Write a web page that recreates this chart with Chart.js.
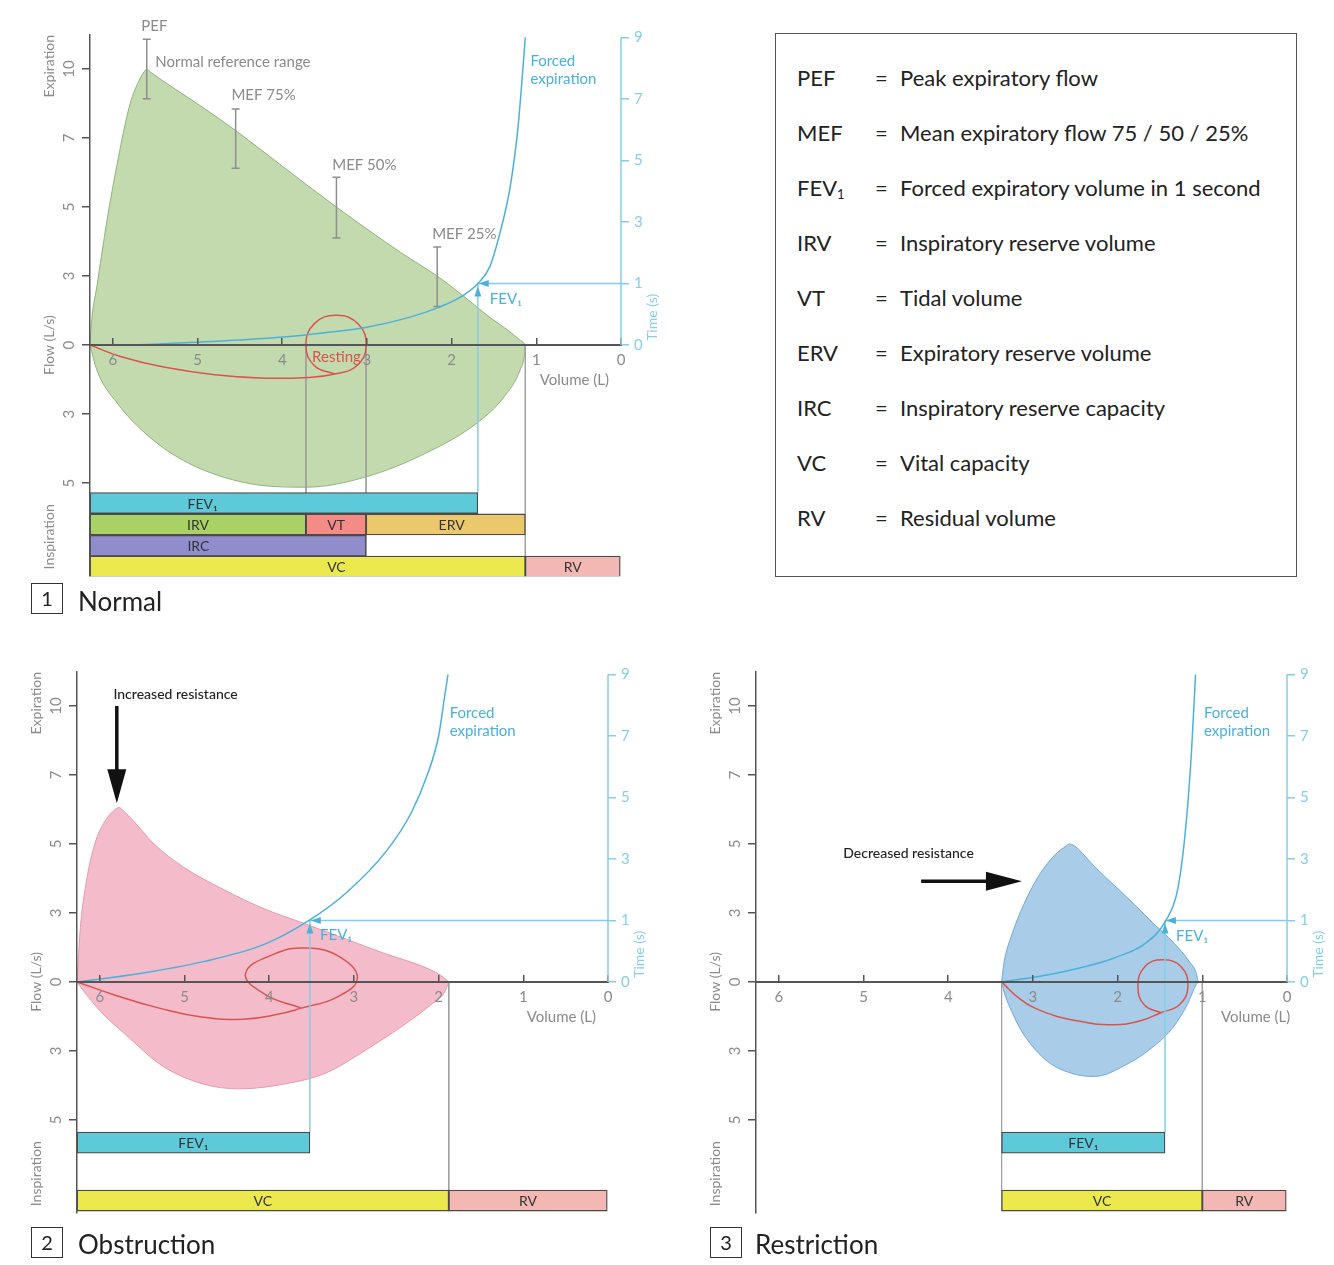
<!DOCTYPE html>
<html>
<head>
<meta charset="utf-8">
<script src="https://cdn.jsdelivr.net/npm/chart.js@4.4.1/dist/chart.umd.min.js"></script>
<style>
  body { margin: 0; background: #fff; font-family: Lato, "Open Sans", sans-serif; }
  #page { position: relative; width: 1334px; height: 1265px; overflow: hidden; }
  canvas { position: absolute; }
  .legend { position: absolute; left: 775px; top: 33px; width: 520px; height: 542px; border: 1.5px solid #555; }
  .legend .cell { position: absolute; font-size: 22px; line-height: 26px; color: #222; white-space: nowrap; }
  .legend sub { font-size: 13px; vertical-align: -3px; }
  .num { position: absolute; width: 30px; height: 29px; border: 1.5px solid #333; font-size: 20px; line-height: 29px; text-align: center; color: #222; z-index: 2; }
  .cap { position: absolute; font-size: 26px; line-height: 32px; color: #222; z-index: 2; }
</style>
</head>
<body>
<div id="page">
  <canvas id="normal" width="700" height="615" style="left:0;top:0"></canvas>
  <canvas id="obstruction" width="680" height="600" style="left:0;top:640px"></canvas>
  <canvas id="restriction" width="654" height="600" style="left:680px;top:640px"></canvas>
  <div class="legend" id="legend"></div>
  <div class="num" style="left:31px;top:583px">1</div><div class="cap" style="left:78px;top:585px">Normal</div>
  <div class="num" style="left:31px;top:1227px">2</div><div class="cap" style="left:78px;top:1228px">Obstruction</div>
  <div class="num" style="left:710px;top:1227px">3</div><div class="cap" style="left:755px;top:1228px">Restriction</div>
</div>
<script>
// ---- axes ----
// flow and time axes are drawn with evenly spaced ticks but uneven labels,
// so values below are in tick steps (one step = one tick)
const volumeTicks = [6, 5, 4, 3, 2, 1, 0];
const flowTickPos = [4, 3, 2, 1, 0, -1, -2];
const flowTickLabels = ['10', '7', '5', '3', '0', '3', '5'];
const timeTickPos = [0, 1, 2, 3, 4, 5];
const timeTickLabels = ['0', '1', '3', '5', '7', '9'];

// ---- 1 Normal ----
const normalExpVol  = [6.27, 6.25, 6.19, 6.07, 5.95, 5.80, 5.68, 5.63, 5.60, 5.56, 4.97, 4.53, 4.03, 3.35, 2.60, 2.16, 1.83, 1.57, 1.32, 1.20, 1.14, 1.13];
const normalExpFlow = [0, 0.36, 0.84, 1.80, 2.62, 3.48, 3.86, 3.96, 4.00, 3.96, 3.47, 3.09, 2.62, 1.99, 1.34, 0.99, 0.68, 0.42, 0.20, 0.08, 0.02, 0];
const normalInspVol  = [6.27, 6.19, 5.95, 5.57, 5.11, 4.42, 3.71, 3.01, 2.31, 1.70, 1.38, 1.19, 1.14, 1.13];
const normalInspFlow = [0, -0.36, -0.84, -1.33, -1.71, -2.00, -2.06, -1.91, -1.57, -1.13, -0.75, -0.36, -0.14, 0];
const normalTidalVol  = [6.27, 5.90, 5.40, 4.80, 4.20, 3.70, 3.38, 3.12, 3.01, 3.10, 3.36, 3.62, 3.72, 3.62, 3.38];
const normalTidalFlow = [0, -0.17, -0.32, -0.43, -0.48, -0.47, -0.42, -0.30, -0.02, 0.30, 0.43, 0.31, 0, -0.30, -0.42];
const normalForcedVol  = [6.27, 5.60, 4.97, 4.40, 3.99, 3.50, 3.00, 2.50, 2.14, 1.87, 1.69, 1.55, 1.43, 1.31, 1.22, 1.16, 1.13];
const normalForcedTime = [0, 0.01, 0.05, 0.09, 0.13, 0.20, 0.29, 0.45, 0.62, 0.80, 1.00, 1.27, 1.82, 2.56, 3.49, 4.46, 5.00];
const normalRefNames = ['PEF', 'MEF 75%', 'MEF 50%', 'MEF 25%'];
const normalRefVol  = [5.60, 4.55, 3.36, 2.17];
const normalRefLow  = [3.57, 2.56, 1.55, 0.56];
const normalRefHigh = [4.43, 3.42, 2.43, 1.42];
const normalBarNames = ['FEV₁', 'IRV', 'VT', 'ERV', 'IRC', 'VC', 'RV'];
const normalBarStart = [6.27, 6.27, 3.72, 3.01, 6.27, 6.27, 1.13];
const normalBarEnd   = [1.69, 3.72, 3.01, 1.13, 3.01, 1.13, 0];
const normalBarRow   = [0, 1, 1, 1, 2, 3, 3];
const normalFev1Vol = 1.69;

// ---- 2 Obstruction ----
const obstExpVol  = [6.27, 6.23, 6.16, 6.06, 5.94, 5.82, 5.77, 5.73, 5.60, 5.36, 5.02, 4.54, 4.06, 3.57, 3.09, 2.61, 2.22, 1.98, 1.88];
const obstExpFlow = [0, 0.79, 1.45, 2.00, 2.33, 2.50, 2.53, 2.49, 2.33, 2.00, 1.67, 1.34, 1.06, 0.84, 0.62, 0.40, 0.24, 0.10, 0];
const obstInspVol  = [6.27, 6.18, 5.99, 5.70, 5.27, 4.78, 4.35, 3.82, 3.33, 2.85, 2.37, 2.08, 1.93, 1.88];
const obstInspFlow = [0, -0.15, -0.43, -0.76, -1.21, -1.48, -1.55, -1.48, -1.32, -0.98, -0.59, -0.32, -0.15, 0];
const obstTidalVol  = [6.27, 5.80, 5.30, 4.80, 4.30, 3.90, 3.62, 3.20, 2.96, 3.15, 3.55, 3.95, 4.28, 4.05, 3.62];
const obstTidalFlow = [0, -0.20, -0.38, -0.51, -0.54, -0.47, -0.38, -0.22, 0.05, 0.35, 0.49, 0.40, 0.12, -0.18, -0.38];
const obstForcedVol  = [6.27, 5.51, 4.78, 4.06, 3.53, 3.09, 2.61, 2.32, 2.13, 2.00, 1.93, 1.89];
const obstForcedTime = [0, 0.14, 0.33, 0.61, 1.00, 1.45, 2.14, 2.76, 3.38, 4.00, 4.63, 5.00];
const obstBarNames = ['FEV₁', 'VC', 'RV'];
const obstBarStart = [6.27, 6.27, 1.88];
const obstBarEnd   = [3.52, 1.88, 0];
const obstBarRow   = [0, 1, 1];
const obstFev1Vol = 3.52;

// ---- 3 Restriction ----
const restrExpVol  = [3.37, 3.34, 3.25, 3.11, 2.92, 2.74, 2.61, 2.57, 2.52, 2.46, 2.27, 2.04, 1.80, 1.57, 1.34, 1.15, 1.07, 1.05];
const restrExpFlow = [0, 0.29, 0.68, 1.12, 1.56, 1.84, 1.97, 2.00, 1.98, 1.92, 1.67, 1.40, 1.12, 0.84, 0.57, 0.29, 0.12, 0];
const restrInspVol  = [3.37, 3.34, 3.25, 3.11, 2.83, 2.50, 2.27, 1.90, 1.57, 1.34, 1.17, 1.09, 1.05];
const restrInspFlow = [0, -0.15, -0.43, -0.76, -1.15, -1.34, -1.37, -1.20, -0.93, -0.65, -0.31, -0.08, 0];
const restrTidalVol  = [3.37, 3.15, 2.90, 2.50, 2.05, 1.72, 1.50, 1.27, 1.17, 1.25, 1.47, 1.68, 1.76, 1.68, 1.48];
const restrTidalFlow = [0, -0.25, -0.42, -0.56, -0.62, -0.56, -0.45, -0.33, -0.07, 0.22, 0.32, 0.22, -0.07, -0.34, -0.45];
const restrForcedVol  = [3.37, 2.97, 2.50, 2.04, 1.66, 1.43, 1.29, 1.20, 1.13, 1.08];
const restrForcedTime = [0, 0.08, 0.21, 0.39, 0.64, 1.00, 1.51, 2.45, 3.69, 5.00];
const restrBarNames = ['FEV₁', 'VC', 'RV'];
const restrBarStart = [3.37, 3.37, 1.00];
const restrBarEnd   = [1.44, 1.00, 0];
const restrBarRow   = [0, 1, 1];
const restrFev1Vol = 1.44;

// ---- legend ----
const legendAbbr = ['PEF', 'MEF', 'FEV<sub>1</sub>', 'IRV', 'VT', 'ERV', 'IRC', 'VC', 'RV'];
const legendText = ['Peak expiratory flow', 'Mean expiratory flow 75 / 50 / 25%', 'Forced expiratory volume in 1 second',
  'Inspiratory reserve volume', 'Tidal volume', 'Expiratory reserve volume', 'Inspiratory reserve capacity',
  'Vital capacity', 'Residual volume'];

// ---- styling ----
const VOL_MAX = 6.27;
const FLOW_MIN = -3.35, FLOW_MAX = 4.5;
const TIME_PER_FLOW = 69 / 61.5;   // time ticks sit a little closer than flow ticks
const BAR_HALF = 0.152;            // half a bar row, in flow steps
const GRAY_TEXT = '#8a8a8a';
const AXIS = '#555';
const BLUE = '#4ab1dc';
const BLUE_LIGHT = '#86cde9';
const RED = '#d9544e';
const GUIDE = '#a0a0a0';
const BAR_COLORS = { 'FEV₁': '#5ec9d8', IRV: '#a9d166', VT: '#f48b86', ERV: '#eac86b', IRC: '#918dcc', VC: '#ece94f', RV: '#f3b8b3' };

Chart.defaults.font.family = 'Lato, "Open Sans", sans-serif';
Chart.defaults.font.size = 15;
Chart.defaults.color = GRAY_TEXT;

const decor = {};

function pts(xs, ys) {
  return xs.map((v, i) => ({ x: v, y: ys[i] }));
}

function drawText(ctx, s, x, y, n) {
  ctx.save();
  ctx.font = `${n.weight || 400} ${n.size || 15}px Lato, "Open Sans", sans-serif`;
  ctx.fillStyle = n.color || GRAY_TEXT;
  ctx.textAlign = n.align || 'left';
  ctx.textBaseline = 'middle';
  ctx.translate(x, y);
  if (n.rot) ctx.rotate(n.rot * Math.PI / 180);
  ctx.fillText(s, 0, 0);
  ctx.restore();
}

const decorPlugin = {
  id: 'spiroDecor',
  afterDraw(chart) {
    const d = decor[chart.canvas.id];
    const { ctx, chartArea: area } = chart;
    const sx = chart.scales.x, sy = chart.scales.y, st = chart.scales.y2;
    const py = (val, axis) => (axis === 'y2' ? st : sy).getPixelForValue(val);
    ctx.save();

    // time axis line only covers 0..9 s
    ctx.strokeStyle = BLUE_LIGHT;
    ctx.lineWidth = 1.5;
    ctx.beginPath();
    ctx.moveTo(area.right, st.getPixelForValue(timeTickPos[0]));
    ctx.lineTo(area.right, st.getPixelForValue(timeTickPos[timeTickPos.length - 1]));
    ctx.stroke();

    // labels inside the volume bars
    chart.getDatasetMeta(d.barIndex).data.forEach((bar, i) => {
      const at = d.labelAt && d.labelAt[i] != null ? sx.getPixelForValue(d.labelAt[i]) : (bar.x + bar.base) / 2;
      drawText(ctx, d.barNames[i], at, bar.y + 1, { align: 'center', size: 14, color: '#333' });
    });

    // arrows
    d.arrows.forEach(a => {
      const x0 = sx.getPixelForValue(a.from[0]), y0 = py(a.from[1], a.axis);
      const x1 = sx.getPixelForValue(a.to[0]), y1 = py(a.to[1], a.axis);
      const len = Math.hypot(x1 - x0, y1 - y0);
      const ux = (x1 - x0) / len, uy = (y1 - y0) / len;
      const bx = x1 - ux * a.head, by = y1 - uy * a.head;
      ctx.strokeStyle = a.color;
      ctx.fillStyle = a.color;
      if (a.shaft) {
        ctx.lineWidth = a.width;
        ctx.beginPath();
        ctx.moveTo(x0, y0);
        ctx.lineTo(bx + ux, by + uy);
        ctx.stroke();
      }
      ctx.beginPath();
      ctx.moveTo(x1, y1);
      ctx.lineTo(bx - uy * a.headW / 2, by + ux * a.headW / 2);
      ctx.lineTo(bx + uy * a.headW / 2, by - ux * a.headW / 2);
      ctx.closePath();
      ctx.fill();
    });

    // text notes
    d.notes.forEach(n => {
      let x;
      if (n.left != null) x = area.left + n.left;
      else if (n.right != null) x = area.right + n.right;
      else x = sx.getPixelForValue(n.v);
      drawText(ctx, n.t, x, py(n.f, n.axis), n);
    });
    ctx.restore();
  }
};

function spiroChart(id, o) {
  const datasets = [];
  const loopStyle = { type: 'line', borderColor: o.edge, borderWidth: 1, backgroundColor: o.fill, fill: 'origin',
    pointRadius: 0, cubicInterpolationMode: 'monotone', order: 10 };
  datasets.push(Object.assign({ data: pts(o.expVol, o.expFlow) }, loopStyle));
  datasets.push(Object.assign({ data: pts(o.inspVol, o.inspFlow) }, loopStyle));

  // grey drop lines from the volume axis down to the bars
  o.guides.forEach(g => {
    datasets.push({ type: 'line', data: pts([g[0], g[0]], [0, o.rows[g[1]] - BAR_HALF]), borderColor: GUIDE,
      borderWidth: 1, pointRadius: 0, order: 6 });
  });

  // reference ranges
  (o.refVol || []).forEach((v, i) => {
    datasets.push({ type: 'line', data: pts([v, v], [o.refLow[i], o.refHigh[i]]), borderColor: '#8f8f8f',
      borderWidth: 1.5, pointStyle: 'line', pointRadius: 4, pointBorderColor: '#8f8f8f', pointBorderWidth: 1.5, order: 5 });
  });

  // resting tidal loop
  datasets.push({ type: 'line', data: pts(o.tidalVol, o.tidalFlow), borderColor: RED, borderWidth: 1.5,
    tension: 0.45, pointRadius: 0, fill: false, order: 4 });

  // forced expiration (time axis)
  datasets.push({ type: 'line', yAxisID: 'y2', data: pts(o.forcedVol, o.forcedTime), borderColor: BLUE,
    borderWidth: 1.5, cubicInterpolationMode: 'monotone', pointRadius: 0, fill: false, order: 3 });

  // FEV1 read-off lines
  datasets.push({ type: 'line', yAxisID: 'y2', data: pts([0, o.fev1], [1, 1]), borderColor: BLUE_LIGHT,
    borderWidth: 1.5, pointRadius: 0, order: 3 });
  datasets.push({ type: 'line', yAxisID: 'y2', data: pts([o.fev1, o.fev1], [1, (o.rows[0] + BAR_HALF) * TIME_PER_FLOW]),
    borderColor: BLUE_LIGHT, borderWidth: 1.5, pointRadius: 0, order: 3 });

  // volume bars
  const barIndex = datasets.length;
  datasets.push({
    type: 'bar', indexAxis: 'y',
    data: o.barNames.map((n, i) => ({ y: o.rows[o.barRow[i]], x: [o.barStart[i], o.barEnd[i]] })),
    backgroundColor: o.barNames.map(n => BAR_COLORS[n]),
    borderColor: '#4a4a4a', borderWidth: 1.3, borderSkipped: false, barThickness: 21, order: 0
  });

  const notes = [
    { t: 'Expiration', left: -41, f: 4.04, rot: -90, size: 14, align: 'center' },
    { t: 'Flow (L/s)', left: -41, f: 0, rot: -90, size: 14, align: 'center' },
    { t: 'Inspiration', left: -41, f: -2.78, rot: -90, size: 14, align: 'center' },
    { t: 'Time (s)', right: 31, axis: 'y2', f: 0.45, rot: -90, size: 14, align: 'center', color: BLUE_LIGHT }
  ].concat(o.notes);

  const arrows = [
    { from: [o.fev1 - 0.14, 1], to: [o.fev1 - 0.01, 1], axis: 'y2', head: 10, headW: 7, color: BLUE, shaft: false },
    { from: [o.fev1, 0.7], to: [o.fev1, 0.95], axis: 'y2', head: 10, headW: 7, color: BLUE, shaft: false }
  ].concat(o.arrows || []);

  decor[id] = { barIndex, barNames: o.barNames, labelAt: o.labelAt, notes, arrows };

  new Chart(document.getElementById(id), {
    type: 'line',
    data: { datasets },
    plugins: [decorPlugin],
    options: {
      responsive: false,
      animation: false,
      events: [],
      layout: { padding: { left: 0, right: 0, top: o.padTop, bottom: o.padBottom } },
      plugins: { legend: { display: false }, tooltip: { enabled: false }, title: { display: false } },
      scales: {
        x: {
          type: 'linear', reverse: true, min: 0, max: VOL_MAX, position: { y: 0 }, offset: false,
          afterBuildTicks: s => { s.ticks = volumeTicks.map(v => ({ value: v })); },
          ticks: { z: 1, autoSkip: false, maxRotation: 0, padding: 14, color: GRAY_TEXT, font: { size: 15 },
            callback: v => String(v) },
          grid: { z: 1, offset: false, drawOnChartArea: false, tickLength: -8, color: AXIS, lineWidth: 1.5 },
          border: { z: 1, color: AXIS, width: 2 }
        },
        y: {
          // the bar dataset would otherwise switch on category-style offset for this axis
          type: 'linear', position: 'left', min: FLOW_MIN, max: FLOW_MAX, offset: false,
          afterBuildTicks: s => { s.ticks = flowTickPos.map(v => ({ value: v })); },
          afterFit: s => { s.width = o.yWidth; },
          ticks: { z: 1, autoSkip: false, minRotation: 90, maxRotation: 90, crossAlign: 'center', padding: 4,
            color: GRAY_TEXT, font: { size: 15 }, callback: v => flowTickLabels[flowTickPos.indexOf(v)] },
          grid: { z: 1, offset: false, drawOnChartArea: false, tickLength: 8, color: AXIS, lineWidth: 1.5 },
          border: { z: 1, color: AXIS, width: 1.5 }
        },
        y2: {
          type: 'linear', position: 'right', min: FLOW_MIN * TIME_PER_FLOW, max: FLOW_MAX * TIME_PER_FLOW, offset: false,
          afterBuildTicks: s => { s.ticks = timeTickPos.map(v => ({ value: v })); },
          afterFit: s => { s.width = o.y2Width; },
          ticks: { autoSkip: false, padding: 5, color: BLUE_LIGHT, font: { size: 15 },
            callback: v => timeTickLabels[timeTickPos.indexOf(v)] },
          grid: { drawOnChartArea: false, tickLength: 8, color: BLUE_LIGHT, lineWidth: 1.5 },
          border: { display: false }
        }
      }
    }
  });
}

// ---- 1 Normal ----
spiroChart('normal', {
  padTop: 34.5, padBottom: 38.8, yWidth: 90, y2Width: 79,
  rows: [-2.29, -2.60, -2.91, -3.21],
  expVol: normalExpVol, expFlow: normalExpFlow, inspVol: normalInspVol, inspFlow: normalInspFlow,
  fill: '#c3daae', edge: '#8eb47b',
  tidalVol: normalTidalVol, tidalFlow: normalTidalFlow,
  forcedVol: normalForcedVol, forcedTime: normalForcedTime, fev1: normalFev1Vol,
  refVol: normalRefVol, refLow: normalRefLow, refHigh: normalRefHigh,
  barNames: normalBarNames, barStart: normalBarStart, barEnd: normalBarEnd, barRow: normalBarRow,
  labelAt: [4.94, null, null, 2.0, 4.99, 3.36, null],
  guides: [[3.72, 1], [3.01, 2], [1.13, 3]],
  notes: [
    { t: normalRefNames[0], v: 5.51, f: 4.62, align: 'center' },
    { t: 'Normal reference range', v: 5.50, f: 4.10 },
    { t: normalRefNames[1], v: 4.60, f: 3.62 },
    { t: normalRefNames[2], v: 3.41, f: 2.61 },
    { t: normalRefNames[3], v: 2.23, f: 1.61 },
    { t: 'Resting', v: 3.36, f: -0.17, align: 'center', color: RED },
    { t: 'Forced', v: 1.07, f: 4.12, color: BLUE },
    { t: 'expiration', v: 1.07, f: 3.86, color: BLUE },
    { t: 'FEV₁', v: 1.55, f: 0.67, color: BLUE },
    { t: 'Volume (L)', v: 0.55, f: -0.51, align: 'center' }
  ]
});

// ---- 2 Obstruction ----
spiroChart('obstruction', {
  padTop: 31.5, padBottom: 27, yWidth: 77, y2Width: 72,
  rows: [-2.33, -3.17],
  expVol: obstExpVol, expFlow: obstExpFlow, inspVol: obstInspVol, inspFlow: obstInspFlow,
  fill: '#f4bccb', edge: '#e59aad',
  tidalVol: obstTidalVol, tidalFlow: obstTidalFlow,
  forcedVol: obstForcedVol, forcedTime: obstForcedTime, fev1: obstFev1Vol,
  barNames: obstBarNames, barStart: obstBarStart, barEnd: obstBarEnd, barRow: obstBarRow,
  guides: [[1.88, 1]],
  notes: [
    { t: 'Increased resistance', v: 5.84, f: 4.16, color: '#222', size: 14, weight: 500 },
    { t: 'Forced', v: 1.87, f: 3.90, color: BLUE },
    { t: 'expiration', v: 1.87, f: 3.64, color: BLUE },
    { t: 'FEV₁', v: 3.40, f: 0.68, color: BLUE },
    { t: 'Volume (L)', v: 0.55, f: -0.51, align: 'center' }
  ],
  arrows: [{ from: [5.80, 4.0], to: [5.80, 2.59], axis: 'y', width: 3.5, head: 34, headW: 19, color: '#111', shaft: true }]
});

// ---- 3 Restriction ----
spiroChart('restriction', {
  padTop: 31.5, padBottom: 27, yWidth: 76, y2Width: 47,
  rows: [-2.33, -3.17],
  expVol: restrExpVol, expFlow: restrExpFlow, inspVol: restrInspVol, inspFlow: restrInspFlow,
  fill: '#a9cde8', edge: '#6fa9d6',
  tidalVol: restrTidalVol, tidalFlow: restrTidalFlow,
  forcedVol: restrForcedVol, forcedTime: restrForcedTime, fev1: restrFev1Vol,
  barNames: restrBarNames, barStart: restrBarStart, barEnd: restrBarEnd, barRow: restrBarRow,
  guides: [[3.37, 1], [1.00, 1]],
  notes: [
    { t: 'Decreased resistance', v: 5.24, f: 1.86, color: '#222', size: 14, weight: 500 },
    { t: 'Forced', v: 0.98, f: 3.90, color: BLUE },
    { t: 'expiration', v: 0.98, f: 3.64, color: BLUE },
    { t: 'FEV₁', v: 1.31, f: 0.67, color: BLUE },
    { t: 'Volume (L)', v: 0.37, f: -0.51, align: 'center' }
  ],
  arrows: [{ from: [4.32, 1.46], to: [3.13, 1.46], axis: 'y', width: 3.5, head: 36, headW: 19, color: '#111', shaft: true }]
});

// ---- abbreviation box ----
const legend = document.getElementById('legend');
legendAbbr.forEach((a, i) => {
  const top = 44 + i * 55 - 13;
  legend.insertAdjacentHTML('beforeend',
    `<div class="cell" style="left:21px;top:${top}px">${a}</div>` +
    `<div class="cell" style="left:99px;top:${top}px">=</div>` +
    `<div class="cell" style="left:124px;top:${top}px">${legendText[i]}</div>`);
});
</script>
</body>
</html>
